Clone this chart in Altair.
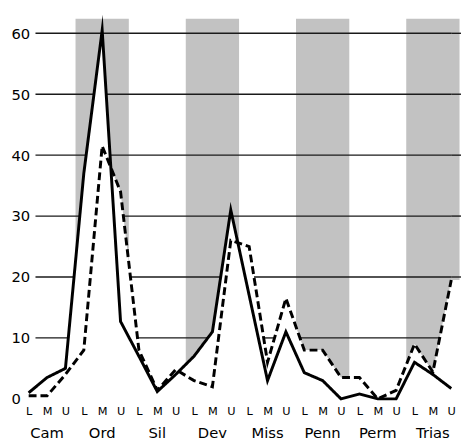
import altair as alt
import numpy as np
import pandas as pd

# ---- data ----
periods = ["Cam", "Ord", "Sil", "Dev", "Miss", "Penn", "Perm", "Trias"]
substages = ["L", "M", "U"]
shaded_periods = ["Ord", "Dev", "Penn", "Trias"]
y_ticks = [0, 10, 20, 30, 40, 50, 60]

solid = [1.0, 3.5, 5.0, 37.0, 60.5, 12.7, 7.0, 1.2, 4.0, 7.0, 11.0, 31.0,
         17.0, 3.0, 11.0, 4.3, 3.0, 0.0, 0.8, 0.0, 0.0, 6.0, 4.0, 1.7]
dashed = [0.5, 0.5, 4.0, 8.0, 41.5, 34.0, 8.0, 1.4, 4.8, 3.0, 2.0, 26.0,
          25.0, 6.0, 16.5, 8.0, 8.0, 3.5, 3.5, 0.0, 1.4, 9.0, 4.4, 19.5]

# ---- tables ----
rows = []
for name, vals in (("solid", solid), ("dashed", dashed)):
    for i, v in enumerate(vals):
        rows.append({"i": i, "value": v, "series": name})
df = pd.DataFrame(rows)

Y_TOP = 62.4
Y_BOT = -0.5
n = len(solid)
xs = np.arange(n, dtype=float)
s_arr = np.array(solid)
d_arr = np.array(dashed)


def env(x):
    x = np.asarray(x, dtype=float)
    return np.maximum(np.interp(x, xs, s_arr), np.interp(x, xs, d_arr))


# knots of the upper envelope of the two drawn lines (where the lines cross)
knots = set(xs.tolist())
for i in range(n - 1):
    a = s_arr[i] - d_arr[i]
    b = s_arr[i + 1] - d_arr[i + 1]
    if a * b < 0:
        knots.add(i + a / (a - b))
knots = sorted(knots)

# shaded bands: from the top of the plot down to the upper line
band_rows = []
for p in shaded_periods:
    k = periods.index(p)
    a, b = 3 * k - 0.45, 3 * k + 2 + 0.45
    pts = [a] + [q for q in knots if a < q < b] + [b]
    for q in pts:
        band_rows.append({"band": p, "x": q, "top": Y_TOP, "env": float(env(q))})
bands = pd.DataFrame(band_rows)

# grid lines: only where they run above both lines
G0, G1 = 0.37, 23.53
grid_rows = []
for lvl in [t for t in y_ticks if t > 0]:
    cuts = [0.0, float(n - 1)]
    for p, q in zip(knots[:-1], knots[1:]):
        ep, eq = float(env(p)), float(env(q))
        if (ep - lvl) * (eq - lvl) < 0:
            cuts.append(p + (lvl - ep) * (q - p) / (eq - ep))
    pts = [G0] + sorted(c for c in cuts if G0 < c < G1) + [G1]
    for u, v in zip(pts[:-1], pts[1:]):
        if float(env((u + v) / 2)) < lvl:
            grid_rows.append({"y": lvl, "x0": u, "x1": v})
grid = pd.DataFrame(grid_rows)

names = pd.DataFrame({"i": [3 * k + 1 for k in range(len(periods))], "name": periods})

FONT = "DejaVu Sans"
W, H = 442, 390

xscale = alt.Scale(domain=[-0.27, 23.37], nice=False, zero=False)
yscale = alt.Scale(domain=[Y_BOT, Y_TOP], nice=False, zero=False)

label_expr = "[" + ",".join("'" + s + "'" for s in substages) + "][datum.value % 3]"

xaxis = alt.Axis(values=list(range(n)), labelExpr=label_expr,
                 ticks=False, domain=False, grid=False, title=None,
                 labelFontSize=11.5, labelFont=FONT, labelColor="black",
                 labelPadding=4, labelFlush=False, labelOverlap=False)
yaxis = alt.Axis(values=y_ticks, ticks=False, domain=False, grid=False,
                 title=None, labelAlign="left", labelPadding=13,
                 labelBaseline="middle", labelFontSize=15, labelFont=FONT,
                 labelColor="black", labelOverlap=False)

band_layer = alt.Chart(bands).mark_area(fill="#c2c2c2", opacity=1, interpolate="linear").encode(
    x=alt.X("x:Q", scale=xscale, axis=xaxis),
    y=alt.Y("top:Q", scale=yscale, axis=yaxis, stack=None),
    y2="env:Q",
    detail="band:N",
)

grid_layer = alt.Chart(grid).mark_rule(color="#1a1a1a", strokeWidth=1.4).encode(
    y=alt.Y("y:Q", scale=yscale, axis=yaxis),
    x=alt.X("x0:Q", scale=xscale, axis=xaxis),
    x2="x1:Q",
)

line_layer = alt.Chart(df).mark_line(color="black", strokeWidth=3, strokeJoin="miter",
                                     strokeMiterLimit=12).encode(
    x=alt.X("i:Q", scale=xscale, axis=xaxis),
    y=alt.Y("value:Q", scale=yscale, axis=yaxis),
    detail="series:N",
    strokeDash=alt.StrokeDash("series:N",
                              scale=alt.Scale(domain=["solid", "dashed"], range=[[1, 0], [8, 4]]),
                              legend=None),
)

name_layer = alt.Chart(names).mark_text(font=FONT, fontSize=15, color="black",
                                        baseline="alphabetic", align="center").encode(
    x=alt.X("i:Q", scale=xscale, axis=xaxis),
    y=alt.value(H + 36.5),
    text="name:N",
)

chart = alt.layer(band_layer, grid_layer, line_layer, name_layer).properties(
    width=W, height=H,
    autosize=alt.AutoSizeParams(type="none"),
    padding={"left": 16, "top": 7, "right": 3, "bottom": 40},
).configure_view(stroke=None)

chart.save("out.html", embed_options={"renderer": "svg", "actions": False})
